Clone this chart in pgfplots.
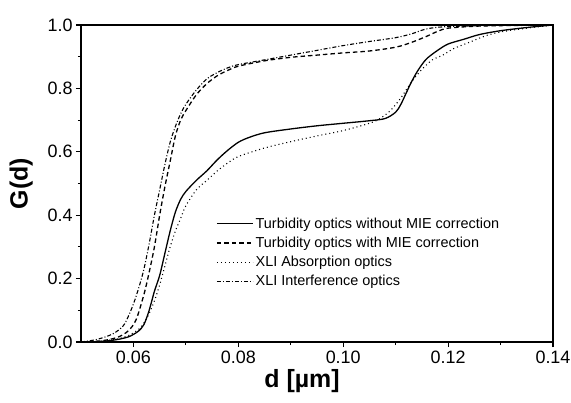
\documentclass[border=0pt]{standalone}
\usepackage{fontspec}
\setmainfont{Liberation Sans}
\usepackage{pgfplots}
\pgfplotsset{compat=1.18}
\begin{document}
\begin{tikzpicture}
\begin{axis}[
  at={(0,0)}, anchor=south west,
  scale only axis, width=472bp, height=317bp,
  xmin=0.05, xmax=0.14, ymin=0, ymax=1,
  xtick={0.06,0.08,0.10,0.12,0.14},
  ytick={0,0.2,0.4,0.6,0.8,1.0},
  minor tick num=1,
  tick align=outside, xtick pos=bottom, ytick pos=left,
  major tick length=5bp, minor tick length=3bp,
  every tick/.style={black, line width=1.1pt},
  axis line style={line width=1.4pt},
  x tick label style={/pgf/number format/.cd, fixed, fixed zerofill, precision=2, assume math mode=true},
  y tick label style={/pgf/number format/.cd, fixed, fixed zerofill, precision=1, assume math mode=true},
  scaled x ticks=false,
  tick label style={font=\fontsize{18}{20}\selectfont},
  xlabel={\bfseries d [µm]}, ylabel={\bfseries G(d)},
  label style={font=\fontsize{25}{28}\selectfont},
  xlabel style={xshift=-15bp, yshift=1bp},
  ylabel shift=8bp,
  legend style={draw=none, fill=none, at={(0.28,0.405)}, anchor=north west,
    font=\fontsize{14.5}{17}\selectfont, row sep=3.2bp},
  legend cell align=left,
  legend image code/.code={\draw[#1] (0bp,0bp) -- (36bp,0bp);},
]
\addplot[black, line width=1.3pt, smooth, tension=0.5] coordinates {
(0.050,0.000) (0.054,0.002) (0.057,0.008) (0.059,0.016) (0.060,0.024)
(0.061,0.035) (0.062,0.055) (0.063,0.10) (0.064,0.16) (0.065,0.21)
(0.066,0.28) (0.067,0.35) (0.068,0.41) (0.069,0.45) (0.070,0.475)
(0.072,0.51) (0.074,0.54) (0.076,0.575) (0.078,0.605) (0.080,0.63)
(0.082,0.645) (0.085,0.66) (0.090,0.672) (0.095,0.682) (0.100,0.69)
(0.105,0.698) (0.108,0.705) (0.110,0.725) (0.111,0.75) (0.112,0.785)
(0.113,0.82) (0.114,0.85) (0.115,0.875) (0.116,0.895) (0.118,0.92)
(0.120,0.94) (0.123,0.955) (0.126,0.97) (0.130,0.982) (0.135,0.992) (0.140,1.0)
};
\addlegendentry{Turbidity optics without MIE correction}
\addplot[black, line width=1.3pt, dash pattern=on 4.5bp off 3bp, smooth, tension=0.5] coordinates {
(0.050,0.0) (0.054,0.004) (0.057,0.015) (0.059,0.035) (0.0605,0.07)
(0.062,0.15) (0.063,0.22) (0.064,0.30) (0.065,0.40) (0.066,0.49)
(0.067,0.57) (0.068,0.65) (0.069,0.70) (0.070,0.73) (0.072,0.78)
(0.074,0.815) (0.076,0.84) (0.078,0.857) (0.080,0.87) (0.085,0.887)
(0.090,0.898) (0.095,0.905) (0.100,0.912) (0.105,0.918) (0.110,0.93)
(0.113,0.945) (0.116,0.965) (0.118,0.98) (0.120,0.99) (0.125,0.996)
(0.130,0.998) (0.140,1.0)
};
\addlegendentry{Turbidity optics with MIE correction}
\addplot[black, line width=1.1pt, dash pattern=on 1bp off 3bp, smooth, tension=0.5] coordinates {
(0.050,0.0) (0.054,0.003) (0.057,0.01) (0.059,0.02) (0.061,0.04)
(0.062,0.06) (0.063,0.09) (0.064,0.13) (0.065,0.18) (0.066,0.24)
(0.067,0.30) (0.068,0.35) (0.069,0.39) (0.070,0.43) (0.072,0.48)
(0.074,0.51) (0.076,0.54) (0.078,0.565) (0.080,0.585) (0.085,0.612)
(0.090,0.632) (0.095,0.65) (0.100,0.667) (0.105,0.69) (0.107,0.705)
(0.109,0.73) (0.111,0.77) (0.113,0.82) (0.115,0.86) (0.117,0.89)
(0.119,0.905) (0.121,0.925) (0.124,0.945) (0.127,0.965) (0.130,0.978)
(0.135,0.99) (0.140,1.0)
};
\addlegendentry{XLI Absorption optics}
\addplot[black, line width=1.1pt, dash pattern=on 4bp off 2bp on 1bp off 2bp, smooth, tension=0.5] coordinates {
(0.050,0.0) (0.053,0.008) (0.056,0.025) (0.058,0.05) (0.059,0.08)
(0.060,0.12) (0.061,0.17) (0.062,0.23) (0.063,0.31) (0.064,0.40)
(0.065,0.48) (0.066,0.56) (0.067,0.63) (0.068,0.68) (0.069,0.72)
(0.070,0.75) (0.072,0.795) (0.074,0.83) (0.076,0.85) (0.078,0.865)
(0.080,0.875) (0.085,0.89) (0.090,0.905) (0.095,0.92) (0.100,0.935)
(0.105,0.948) (0.110,0.96) (0.113,0.972) (0.116,0.988) (0.120,0.995)
(0.130,0.999) (0.140,1.0)
};
\addlegendentry{XLI Interference optics}
\end{axis}
\pgfresetboundingbox
\path (-81bp,-61bp) rectangle (490bp,342bp);
\end{tikzpicture}
\end{document}
